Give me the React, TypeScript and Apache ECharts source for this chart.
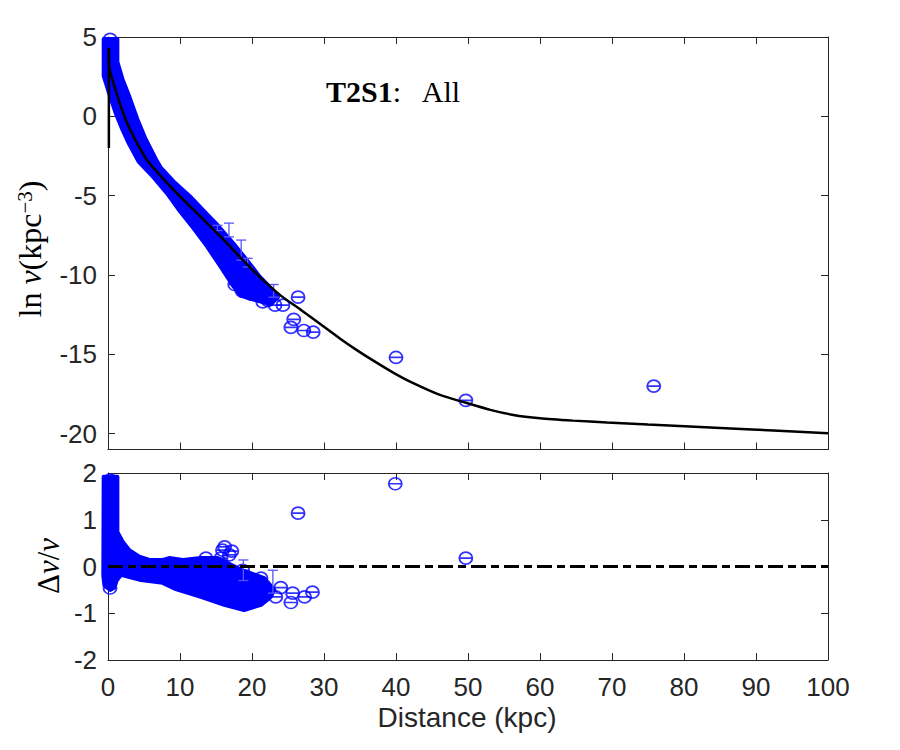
import React, { useEffect, useRef } from 'react';
import * as echarts from 'echarts';

// ---------- data ----------
const xTickValues = [0, 10, 20, 30, 40, 50, 60, 70, 80, 90, 100];
const upperYTickValues = [-20, -15, -10, -5, 0, 5];
const lowerYTickValues = [-2, -1, 0, 1, 2];

// model curve ln nu (black line)
const modelSpike: [number, number][] = [[0.12, -2.0], [0.12, 4.3]];
const modelCurve: [number, number][] = [
  [0.12, 4.3], [0.15, 3.3], [0.25, 2.9], [1.0, 1.73], [1.9, 0.48], [2.8, -0.57], [4.2, -1.83],
  [5.6, -2.87], [7.4, -3.8], [10.1, -5.1], [12.9, -6.35], [15.7, -7.62], [18.5, -8.95],
  [21.25, -10.2], [24.0, -11.3], [26.8, -12.2], [29.2, -13.0], [32.2, -14.0], [34.5, -14.72],
  [36.85, -15.4], [39.6, -16.15], [42.4, -16.82], [46.1, -17.56], [49.6, -18.04], [53.1, -18.5],
  [56.3, -18.82], [60.0, -19.03], [64.6, -19.18], [69.3, -19.3], [75.0, -19.43], [80.8, -19.55],
  [86.5, -19.67], [92.4, -19.8], [100, -19.97],
];

// outline of the dense cloud of observations (upper panel)
const upperBand: [number, number][] = [
  [1.3, 4.87], [1.3, 3.43], [2.0, 2.36], [2.9, 1.31], [4.05, -0.15], [5.2, -1.41],
  [6.6, -2.66], [7.3, -3.21], [9.1, -4.1], [11.4, -5.05], [13.7, -6.15], [15.2, -6.85],
  [17.4, -8.0], [19.3, -9.07], [21.1, -10.12], [22.9, -10.95], [23.6, -11.4], [22.6, -11.85],
  [20.2, -11.55], [18.4, -11.3], [17.4, -10.7], [15.6, -9.45], [13.75, -8.2], [11.85, -7.04],
  [10.05, -6.02], [8.2, -4.86], [6.3, -3.84], [4.25, -2.85], [2.9, -1.72], [1.95, -0.78],
  [1.0, 0.29], [0.1, 1.53], [-0.6, 2.55], [-0.6, 4.87],
];

// individual observations (upper panel)
const upperPoints: [number, number][] = [
  [17.6, -10.6], [18.6, -11.0], [19.8, -11.2], [21.0, -11.3], [22.2, -11.6], [23.2, -11.9],
  [24.3, -11.9], [21.5, -11.7], [26.4, -11.4], [25.8, -12.8], [25.4, -13.3], [27.2, -13.5],
  [28.5, -13.6], [40.0, -15.2], [49.7, -17.9], [75.8, -17.0], [0.3, 4.85],
];

// error bars [x, low, high]
const upperErrorBars: [number, number, number][] = [
  [15.2, -7.2, -6.87], [16.8, -7.6, -6.73], [18.5, -9.07, -7.8], [19.4, -9.5, -8.95], [23.0, -11.4, -10.6],
];

// lower panel: residual cloud outline
const lowerBand: [number, number][] = [
  [-0.6, 1.92], [1.3, 1.92], [1.3, 0.74], [2.04, 0.53], [2.96, 0.35], [4.35, 0.21], [5.74, 0.14],
  [7.6, 0.14], [8.5, 0.18], [10.4, 0.14], [12.9, 0.18], [15.2, 0.18], [18.5, -0.07], [21.7, -0.25],
  [23.1, -0.5], [22.6, -0.65], [21.25, -0.82], [18.9, -0.93], [16.15, -0.82], [12.9, -0.65],
  [9.2, -0.47], [7.6, -0.35], [4.58, -0.29], [1.8, -0.18], [1.2, -0.3], [0.9, -0.45], [0.3, -0.5],
  [-0.5, -0.4], [-0.65, -0.2],
];

const lowerPoints: [number, number][] = [
  [15.9, 0.35], [16.85, 0.25], [15.7, 0.18], [16.2, 0.42], [17.2, 0.33], [13.6, 0.18],
  [18.7, -0.08], [21.25, -0.25], [24.0, -0.45], [25.65, -0.57], [25.4, -0.77], [27.3, -0.65],
  [28.4, -0.55], [23.3, -0.65], [26.4, 1.14], [39.9, 1.77], [49.7, 0.18], [0.28, -0.46], [0.3, 1.85],
];

const lowerErrorBars: [number, number, number][] = [
  [18.8, -0.3, 0.14], [22.9, -0.57, -0.08],
];

const zeroLine: [number, number][] = [[0, 0], [100, 0]];

// ---------- styling ----------
const AXIS_COLOR = '#262626';
const BLUE = '#0000ff';
const ERR_BLUE = '#5555ff';
const CIRCLE_SYMBOL = 'path://M0,5 A5,5,0,1,1,10,5 A5,5,0,1,1,0,5 Z M0,5 L10,5';

const GRID_LEFT = 100;
const GRID_W = 720;
const UP_TOP = 29;
const UP_H = 412.5;
const LO_TOP = 465;
const LO_H = 187;

function bandSeries(points: [number, number][], xi: number, yi: number) {
  return {
    type: 'custom',
    xAxisIndex: xi,
    yAxisIndex: yi,
    silent: true,
    z: 2,
    data: [[points[0][0], points[0][1]]],
    renderItem: (_params: any, api: any) => ({
      type: 'polygon',
      shape: { points: points.map((p) => api.coord(p)) },
      style: { fill: BLUE, stroke: BLUE, lineWidth: 4, lineJoin: 'round' },
    }),
  };
}

function errorSeries(bars: [number, number, number][], xi: number, yi: number) {
  return {
    type: 'custom',
    xAxisIndex: xi,
    yAxisIndex: yi,
    silent: true,
    z: 4,
    encode: { x: 0, y: [1, 2] },
    data: bars,
    renderItem: (_params: any, api: any) => {
      const x = api.value(0);
      const lo = api.coord([x, api.value(1)]);
      const hi = api.coord([x, api.value(2)]);
      const w = 5;
      const st = { stroke: ERR_BLUE, lineWidth: 1.3 };
      return {
        type: 'group',
        children: [
          { type: 'line', shape: { x1: lo[0], y1: lo[1], x2: hi[0], y2: hi[1] }, style: st },
          { type: 'line', shape: { x1: hi[0] - w, y1: hi[1], x2: hi[0] + w, y2: hi[1] }, style: st },
          { type: 'line', shape: { x1: lo[0] - w, y1: lo[1], x2: lo[0] + w, y2: lo[1] }, style: st },
        ],
      };
    },
  };
}

function scatterSeries(points: [number, number][], xi: number, yi: number) {
  return {
    type: 'scatter',
    xAxisIndex: xi,
    yAxisIndex: yi,
    silent: true,
    z: 3,
    symbol: CIRCLE_SYMBOL,
    symbolSize: [13, 12],
    itemStyle: { color: 'rgba(0,0,0,0)', borderColor: BLUE, borderWidth: 1.8 },
    data: points,
  };
}

function xAxisDef(gridIndex: number, position: 'top' | 'bottom', showLabels: boolean) {
  return {
    type: 'value',
    gridIndex,
    position,
    min: 0,
    max: 100,
    interval: 10,
    axisLine: { show: true, onZero: false, lineStyle: { color: AXIS_COLOR, width: 1 } },
    axisTick: { show: true, inside: true, length: 7, lineStyle: { color: AXIS_COLOR } },
    axisLabel: {
      show: showLabels,
      margin: 14,
      color: AXIS_COLOR,
      fontFamily: 'Liberation Sans',
      fontSize: 26,
      customValues: xTickValues,
    },
    splitLine: { show: false },
  };
}

function yAxisDef(gridIndex: number, position: 'left' | 'right', showLabels: boolean, upper: boolean) {
  const ticks = upper ? upperYTickValues : lowerYTickValues;
  return {
    type: 'value',
    gridIndex,
    position,
    min: upper ? -21 : -2,
    max: upper ? 5 : 2,
    axisLine: { show: true, onZero: false, lineStyle: { color: AXIS_COLOR, width: 1 } },
    axisTick: { show: true, inside: true, length: 7, lineStyle: { color: AXIS_COLOR }, customValues: ticks },
    axisLabel: {
      show: showLabels,
      margin: 11,
      color: AXIS_COLOR,
      fontFamily: 'Liberation Sans',
      fontSize: 26,
      customValues: ticks,
    },
    splitLine: { show: false },
  };
}

export default function App() {
  const ref = useRef<HTMLDivElement>(null);

  useEffect(() => {
    if (!ref.current) return;
    const chart = echarts.init(ref.current, undefined, { renderer: 'svg' });
    const blackLine = { color: '#000000', width: 2.5 };
    const option: any = {
      animation: false,
      backgroundColor: '#ffffff',
      grid: [
        { left: GRID_LEFT, top: UP_TOP, width: GRID_W, height: UP_H },
        { left: GRID_LEFT, top: LO_TOP, width: GRID_W, height: LO_H },
      ],
      xAxis: [
        xAxisDef(0, 'bottom', false),
        xAxisDef(0, 'top', false),
        xAxisDef(1, 'bottom', true),
        xAxisDef(1, 'top', false),
      ],
      yAxis: [
        yAxisDef(0, 'left', true, true),
        yAxisDef(0, 'right', false, true),
        yAxisDef(1, 'left', true, false),
        yAxisDef(1, 'right', false, false),
      ],
      series: [
        bandSeries(upperBand, 0, 0),
        scatterSeries(upperPoints, 0, 0),
        errorSeries(upperErrorBars, 0, 0),
        {
          type: 'line', xAxisIndex: 0, yAxisIndex: 0, data: modelSpike,
          showSymbol: false, silent: true, z: 5, lineStyle: blackLine,
        },
        {
          type: 'line', xAxisIndex: 0, yAxisIndex: 0, data: modelCurve,
          showSymbol: false, smooth: 0.25, silent: true, z: 5, lineStyle: blackLine,
        },
        bandSeries(lowerBand, 2, 2),
        scatterSeries(lowerPoints, 2, 2),
        errorSeries(lowerErrorBars, 2, 2),
        {
          type: 'line', xAxisIndex: 2, yAxisIndex: 2, data: zeroLine,
          showSymbol: false, silent: true, z: 5,
          lineStyle: { color: '#000000', width: 3, type: [15, 5, 8, 5] },
        },
      ],
      graphic: [
        {
          type: 'text', x: 318, y: 83, silent: true,
          style: {
            text: '{b|T2S1}{r|:   All}',
            textAlign: 'left',
            textVerticalAlign: 'middle',
            rich: {
              b: { fontFamily: 'Liberation Serif', fontWeight: 'bold', fontSize: 30, fill: '#000' },
              r: { fontFamily: 'Liberation Serif', fontSize: 30, fill: '#000' },
            },
          },
        },
        {
          type: 'text', x: 22, y: 241, rotation: Math.PI / 2, silent: true,
          style: {
            text: '{r|ln }{i|ν}{r|(kpc}{s|−3}{r|)}',
            textAlign: 'center',
            textVerticalAlign: 'middle',
            rich: {
              r: { fontFamily: 'Liberation Serif', fontSize: 32, fill: '#000' },
              i: { fontFamily: 'Liberation Serif', fontStyle: 'italic', fontSize: 32, fill: '#000' },
              s: { fontFamily: 'Liberation Serif', fontSize: 21, fill: '#000', verticalAlign: 'top' },
            },
          },
        },
        {
          type: 'text', x: 40, y: 558, rotation: Math.PI / 2, silent: true,
          style: {
            text: '{r|Δ}{i|ν}{r|/}{i|ν}',
            textAlign: 'center',
            textVerticalAlign: 'middle',
            rich: {
              r: { fontFamily: 'Liberation Serif', fontSize: 31, fill: '#000' },
              i: { fontFamily: 'Liberation Serif', fontStyle: 'italic', fontSize: 31, fill: '#000' },
            },
          },
        },
        {
          type: 'text', x: 459, y: 709, silent: true,
          style: {
            text: 'Distance (kpc)',
            textAlign: 'center',
            textVerticalAlign: 'middle',
            fontFamily: 'Liberation Sans',
            fontSize: 28,
            fill: AXIS_COLOR,
          },
        },
      ],
    };
    chart.setOption(option);
    return () => chart.dispose();
  }, []);

  return <div ref={ref} style={{ width: 884, height: 734 }} />;
}
